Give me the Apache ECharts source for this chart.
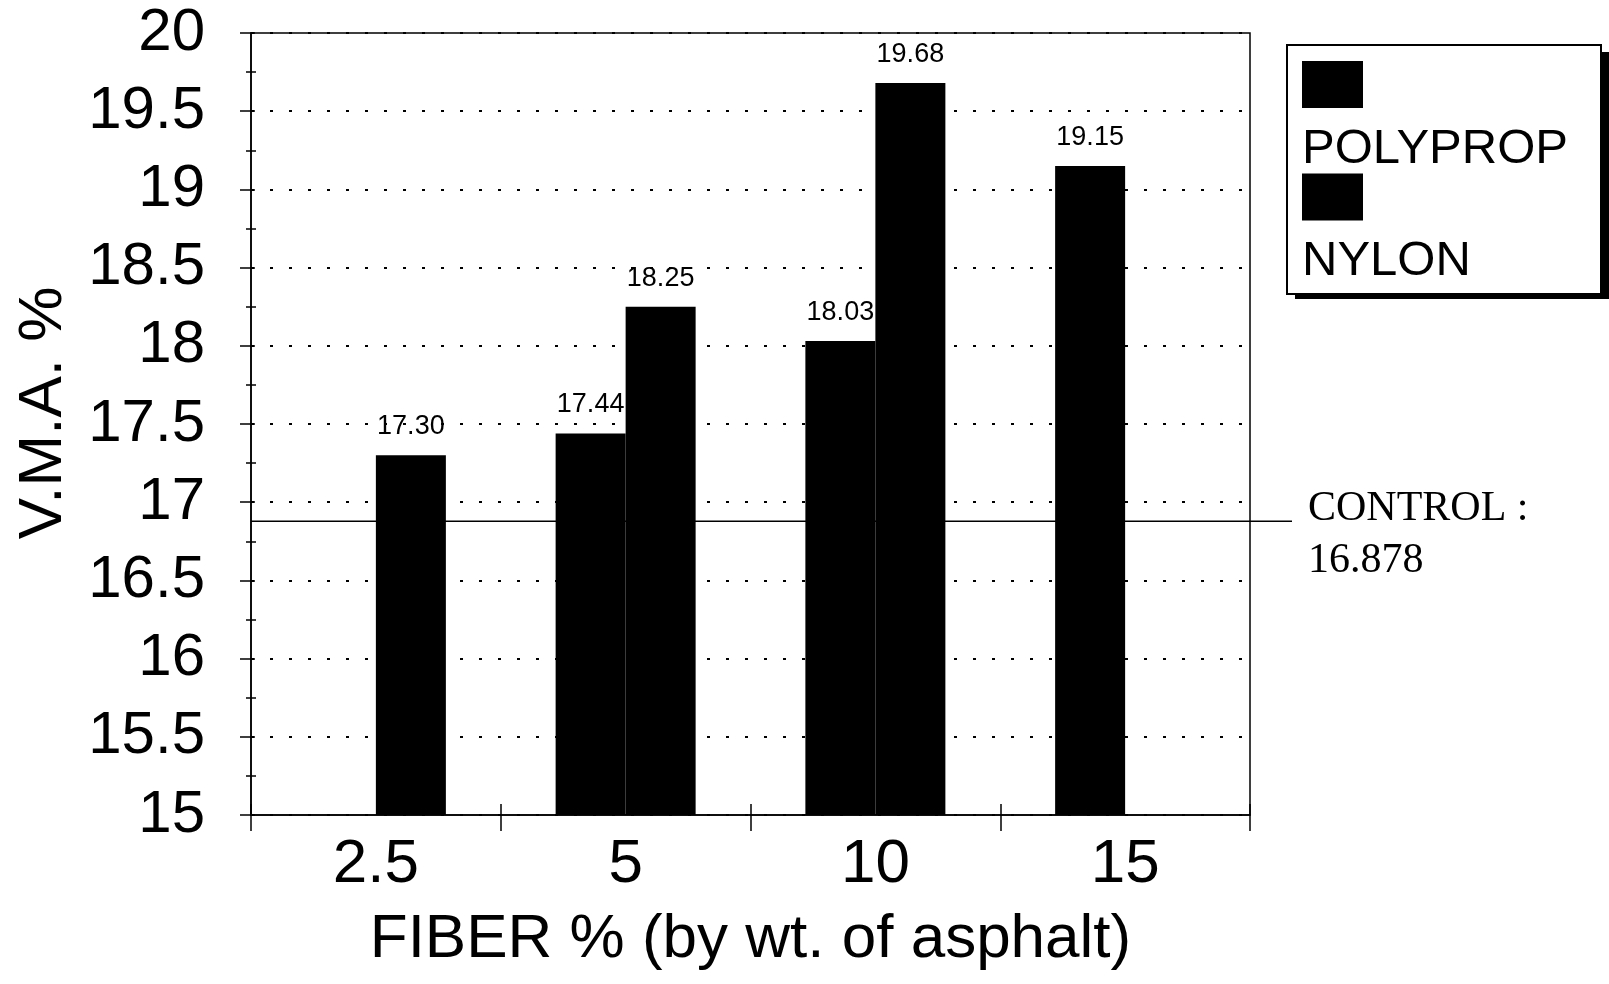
<!DOCTYPE html>
<html>
<head>
<meta charset="utf-8">
<script src="https://cdn.jsdelivr.net/npm/echarts@6/dist/echarts.min.js"></script>
<style>
html,body{margin:0;padding:0;background:#fff;}
#chart{width:1609px;height:984px;}
</style>
</head>
<body>
<div id="chart"></div>
<script>
// ---- data ----
const categories = ['2.5', '5', '10', '15'];
const polyprop = [null, 17.44, 18.03, 19.15];
const nylon = [17.30, 18.25, 19.68, null];
const controlValue = 16.878;
const yMin = 15;
const yMax = 20;
const yStep = 0.5;
const xTitle = 'FIBER % (by wt. of asphalt)';
const yTitle = 'V.M.A. %';

const SANS = "'Liberation Sans', Arial, Helvetica, sans-serif";
const SERIF = "'Liberation Serif', 'Times New Roman', serif";

const chart = echarts.init(document.getElementById('chart'), null, {renderer: 'canvas'});

const valueLabel = {
  show: true,
  position: 'top',
  distance: 15,
  color: '#000',
  fontFamily: SANS,
  fontSize: 27,
  formatter: p => (p.value == null ? '' : Number(p.value).toFixed(2))
};

const LEGEND_BOX = {left: 1287, top: 45, width: 314, height: 247};

const option = {
  animation: false,
  backgroundColor: '#fff',
  grid: [
    {left: 251, right: 359, top: 33, bottom: 169, show: true, borderColor: '#000', borderWidth: 1.5, backgroundColor: 'transparent'},
    {left: 251, right: 317, top: 33, bottom: 169, show: false}
  ],
  graphic: [
    {type: 'rect', z: 0, left: LEGEND_BOX.left + 8, top: LEGEND_BOX.top + 7,
     shape: {width: LEGEND_BOX.width, height: LEGEND_BOX.height}, style: {fill: '#000'}, silent: true}
  ],
  legend: {
    orient: 'vertical',
    left: LEGEND_BOX.left,
    top: LEGEND_BOX.top,
    z: 10,
    data: ['POLYPROP', 'NYLON'],
    selectedMode: false,
    itemWidth: 0,
    itemHeight: 0,
    itemGap: 0,
    padding: [16, 9, 8, 10],
    backgroundColor: '#fff',
    borderColor: '#000',
    borderWidth: 2,
    borderRadius: 0,
    formatter: name => '{sq|}\n{t|' + name + '}',
    textStyle: {
      rich: {
        sq: {width: 61, height: 47, backgroundColor: '#000'},
        t: {fontFamily: SANS, fontSize: 49, lineHeight: 82, width: 290, color: '#000'}
      }
    }
  },
  xAxis: [
    {
      type: 'category', gridIndex: 0, data: categories, position: 'bottom',
      axisLine: {show: true, lineStyle: {color: '#000', width: 1.5}},
      axisTick: {show: true, length: 16, lineStyle: {color: '#000', width: 1.5}},
      axisLabel: {color: '#000', fontFamily: SANS, fontSize: 62, margin: 19},
      splitLine: {show: false},
      name: xTitle, nameLocation: 'middle', nameGap: 94,
      nameTextStyle: {color: '#000', fontFamily: SANS, fontSize: 62}
    },
    {
      type: 'category', gridIndex: 0, data: categories, position: 'bottom',
      axisLine: {show: false},
      axisTick: {show: true, inside: true, length: 11, lineStyle: {color: '#000', width: 1.5}},
      axisLabel: {show: false}, splitLine: {show: false}
    },
    {
      type: 'value', gridIndex: 1, min: 0, max: 1, show: false
    }
  ],
  yAxis: [
    {
      type: 'value', gridIndex: 0, min: yMin, max: yMax, interval: yStep, position: 'left',
      axisLine: {show: true, lineStyle: {color: '#000', width: 1.5}},
      axisTick: {show: true, length: 11, lineStyle: {color: '#000', width: 1.5}},
      minorTick: {show: true, splitNumber: 2, length: 5, lineStyle: {color: '#000', width: 1.5}},
      axisLabel: {color: '#000', fontFamily: SANS, fontSize: 60, margin: 46,
        formatter: v => String(Math.round(v * 10) / 10)},
      splitLine: {show: true, lineStyle: {color: '#000', width: 2, type: [3, 16]}},
      name: yTitle, nameLocation: 'middle', nameGap: 176,
      nameTextStyle: {color: '#000', fontFamily: SANS, fontSize: 62, padding: [0, 0, 0, 22]}
    },
    {
      type: 'value', gridIndex: 0, min: yMin, max: yMax, interval: yStep, position: 'left',
      axisLine: {show: false},
      axisTick: {show: true, inside: true, length: 4, lineStyle: {color: '#000', width: 1.5}},
      minorTick: {show: true, splitNumber: 2, length: 5, lineStyle: {color: '#000', width: 1.5}},
      axisLabel: {show: false}, splitLine: {show: false}
    },
    {
      type: 'value', gridIndex: 1, min: yMin, max: yMax, show: false
    }
  ],
  series: [
    {
      name: 'POLYPROP', type: 'bar', xAxisIndex: 0, yAxisIndex: 0,
      data: polyprop, barWidth: 70, barGap: '0%', z: 3,
      itemStyle: {color: '#000'}, label: valueLabel
    },
    {
      name: 'NYLON', type: 'bar', xAxisIndex: 0, yAxisIndex: 0,
      data: nylon, barWidth: 70, barGap: '0%', z: 3,
      itemStyle: {color: '#000'}, label: valueLabel
    },
    {
      name: 'CONTROL', type: 'line', xAxisIndex: 2, yAxisIndex: 2, z: 1,
      symbol: 'none', silent: true, clip: false,
      lineStyle: {color: '#000', width: 1.5},
      endLabel: {
        show: true, distance: 16, offset: [0, 14],
        formatter: () => 'CONTROL :\n' + controlValue,
        color: '#000', fontFamily: SERIF, fontSize: 42, lineHeight: 52, align: 'left'
      },
      data: [[0, controlValue], [1, controlValue]]
    }
  ]
};

chart.setOption(option);
</script>
</body>
</html>
